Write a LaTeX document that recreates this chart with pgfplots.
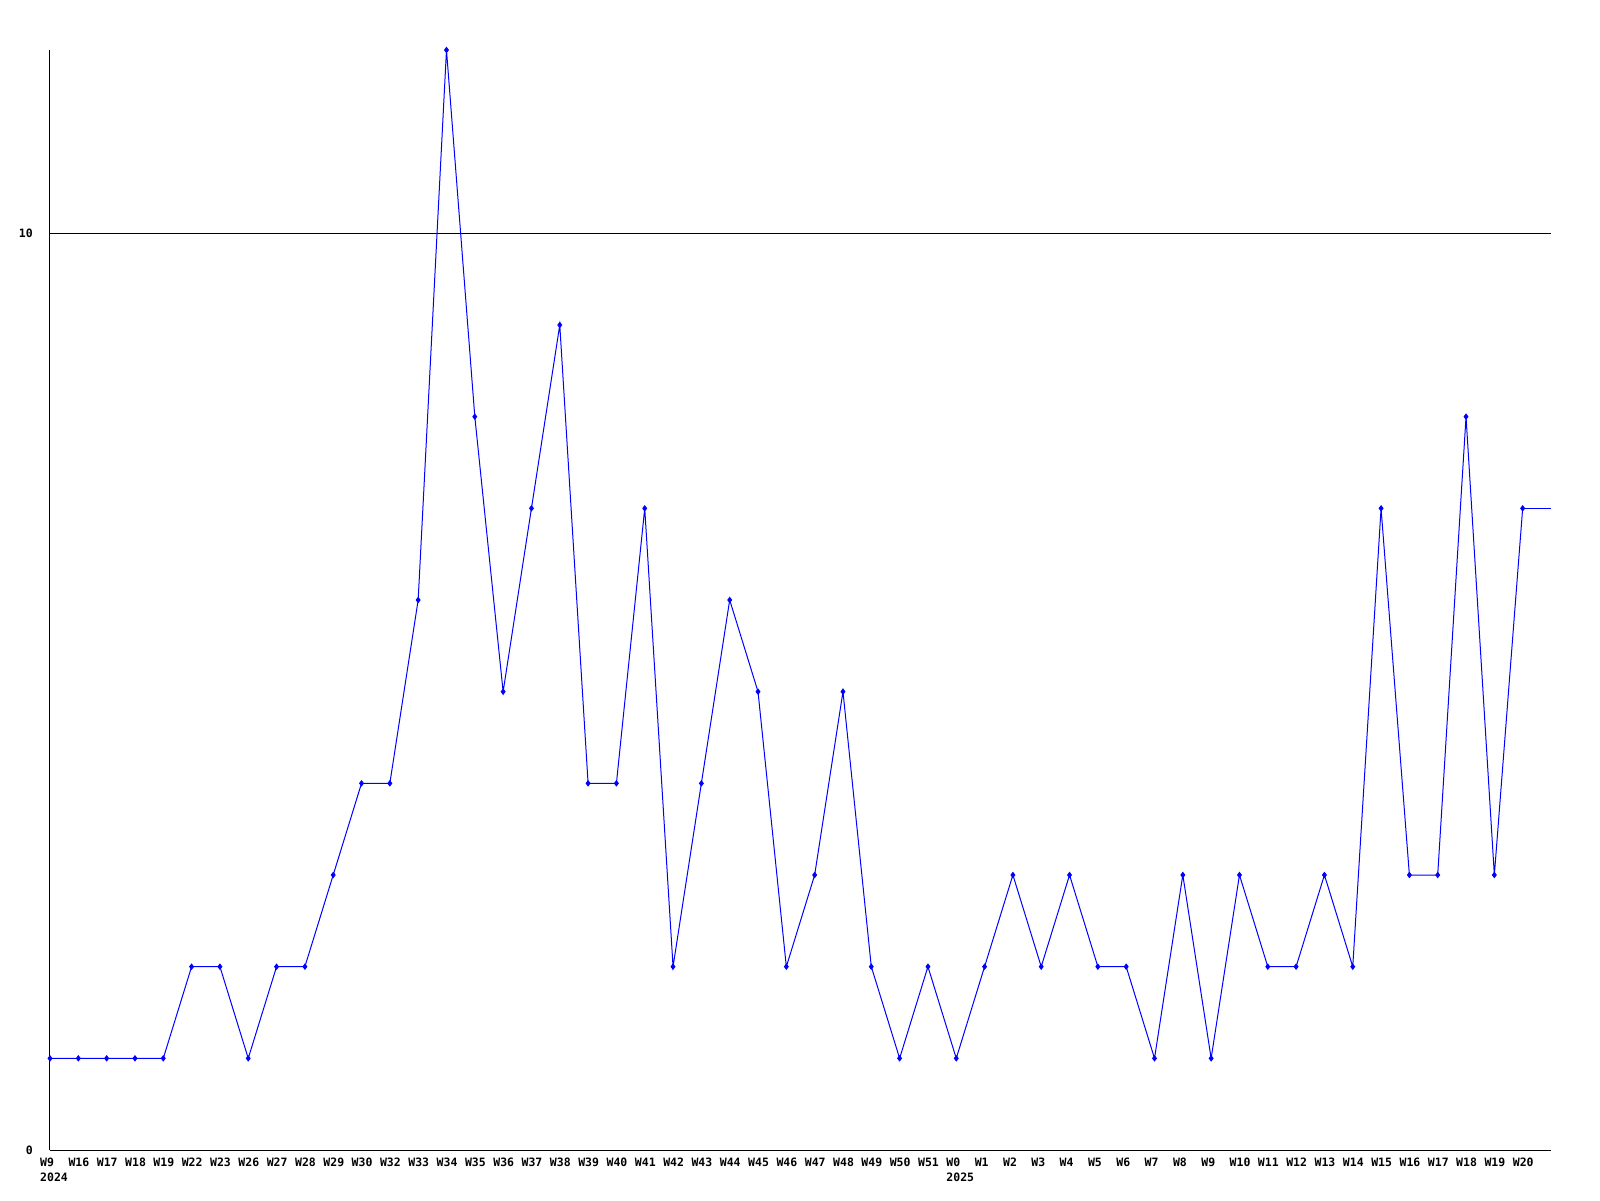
\documentclass[border=0pt]{standalone}
\usepackage{pgfplots}
\pgfplotsset{compat=1.18}
\usepackage{fontspec}
\setmainfont{DejaVu Sans Mono}
\begin{document}
\begin{tikzpicture}[x=1pt,y=1pt]
\path[use as bounding box] (-50,-50) rectangle (1550,1150);
\begin{axis}[
  at={(0,0)}, anchor=south west,
  scale only axis, width=1501pt, height=1100pt,
  xmin=0, xmax=53, ymin=0, ymax=12,
  axis x line*=bottom, axis y line*=left,
  axis line style={black, line width=1pt},
  clip=false,
  major tick length=0pt,
  ytick={0,10},
  ymajorgrids, grid style={black, line width=1pt},
  xtick={0,...,52},
  xticklabels={{W9\\2024},W16,W17,W18,W19,W22,W23,W26,W27,W28,W29,W30,W32,W33,W34,W35,W36,W37,W38,W39,W40,W41,W42,W43,W44,W45,W46,W47,W48,W49,W50,W51,{W0\\2025},W1,W2,W3,W4,W5,W6,W7,W8,W9,W10,W11,W12,W13,W14,W15,W16,W17,W18,W19,W20},
  xticklabel style={anchor=north west, align=left, inner sep=0pt, xshift=-10pt, yshift=-8pt, font=\fontsize{11.5}{15}\selectfont\bfseries},
  yticklabel style={anchor=east, inner sep=0pt, xshift=-17pt, font=\fontsize{11.5}{15}\selectfont\bfseries},
  /pgf/number format/assume math mode=true,
]
\addplot[blue, line width=1pt, mark=diamond*, mark size=2.5pt, mark options={fill=blue}] coordinates {
(0,1)(1,1)(2,1)(3,1)(4,1)(5,2)(6,2)(7,1)(8,2)(9,2)(10,3)(11,4)(12,4)(13,6)(14,12)(15,8)(16,5)(17,7)(18,9)(19,4)(20,4)(21,7)(22,2)(23,4)(24,6)(25,5)(26,2)(27,3)(28,5)(29,2)(30,1)(31,2)
(32,1)(33,2)(34,3)(35,2)(36,3)(37,2)(38,2)(39,1)(40,3)(41,1)(42,3)(43,2)(44,2)(45,3)(46,2)(47,7)(48,3)(49,3)(50,8)(51,3)(52,7)
};
\addplot[blue, line width=1pt, no marks] coordinates {(52,7)(53,7)};
\end{axis}
\end{tikzpicture}
\end{document}
